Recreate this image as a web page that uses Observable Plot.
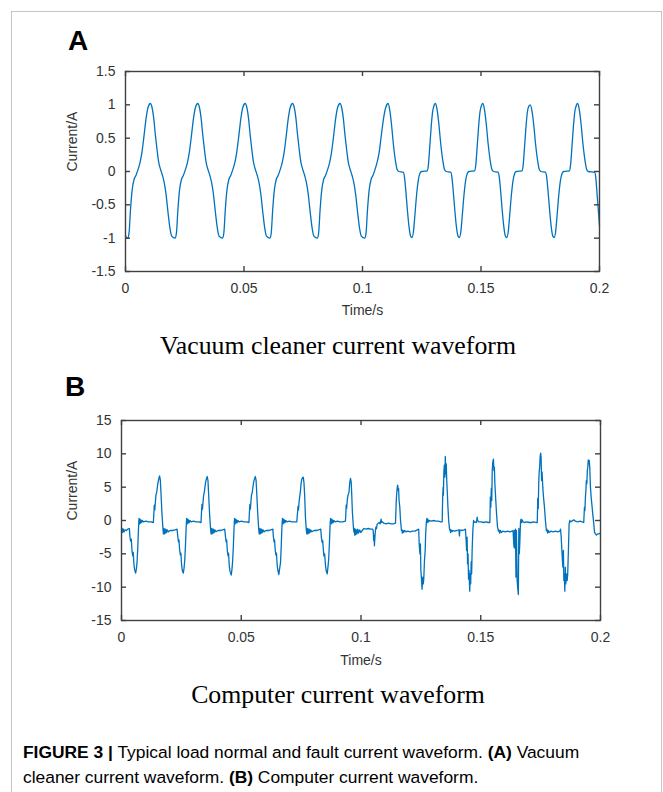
<!DOCTYPE html>
<html>
<head>
<meta charset="utf-8">
<script src="https://cdn.jsdelivr.net/npm/d3@7"></script>
<script src="https://cdn.jsdelivr.net/npm/@observablehq/plot@0.6"></script>
<style>
  html, body { margin: 0; padding: 0; background: #fff; }
  #page { position: relative; width: 663px; height: 792px; overflow: hidden; background: #fff; font-family: "Liberation Sans", Arial, sans-serif; }
  #border { position: absolute; left: 11px; top: 11px; width: 651px; height: 840px; border: 1px solid #c4c4c4; box-sizing: border-box; }
  .letter { position: absolute; font-family: "Liberation Sans", Arial, sans-serif; font-weight: bold; font-size: 28px; line-height: 28px; color: #000; }
  .subtitle { position: absolute; left: 0; width: 676px; text-align: center; font-family: "Liberation Serif", "Times New Roman", serif; font-size: 25.8px; line-height: 26px; color: #000; white-space: nowrap; }
  .chart { position: absolute; left: 0; width: 663px; }
  #caption { position: absolute; left: 23px; top: 740px; font-family: "Liberation Sans", Arial, sans-serif; font-size: 17.4px; line-height: 25px; color: #000; white-space: nowrap; }
</style>
</head>
<body>
<div id="page">
  <div id="border"></div>
  <div class="letter" style="left:68px; top:27px;">A</div>
  <div class="chart" id="chartA" style="top:55px;"></div>
  <div class="subtitle" style="top:333px;">Vacuum cleaner current waveform</div>
  <div class="letter" style="left:65px; top:373px;">B</div>
  <div class="chart" id="chartB" style="top:400px;"></div>
  <div class="subtitle" style="top:682px;">Computer current waveform</div>
  <div id="caption"><b>FIGURE 3 |</b> Typical load normal and fault current waveform. <b>(A)</b> Vacuum<br>cleaner current waveform. <b>(B)</b> Computer current waveform.</div>
</div>
<script>
// ---------- axis ticks ----------
const xTickValues = [0, 0.05, 0.1, 0.15, 0.2];
const xTickLabels = ["0", "0.05", "0.1", "0.15", "0.2"];
const yTickValuesA = [-1.5, -1, -0.5, 0, 0.5, 1, 1.5];
const yTickLabelsA = ["-1.5", "-1", "-0.5", "0", "0.5", "1", "1.5"];
const yTickValuesB = [-15, -10, -5, 0, 5, 10, 15];
const yTickLabelsB = ["-15", "-10", "-5", "0", "5", "10", "15"];

// ---------- (A) vacuum cleaner current: [time in ms, current in A] ----------
const vacuumSamples = [
  [0.0,-0.96],[0.3,-0.99],
  [0.9,-1.00],[1.5,-0.92],[2.1,-0.58],[2.8,-0.28],[3.6,-0.12],[4.4,-0.06],[5.2,0.02],[6.1,0.13],[6.9,0.28],[7.8,0.53],[8.7,0.80],[9.5,0.96],[10.5,1.02],[11.2,0.96],[11.9,0.80],[12.6,0.55],[13.3,0.33],[14.0,0.14],[14.8,0.03],[15.6,-0.06],[16.3,-0.16],[17.1,-0.34],[17.9,-0.60],[18.8,-0.86],[19.5,-0.97],
  [20.9,-1.00],[21.5,-0.92],[22.1,-0.58],[22.8,-0.28],[23.6,-0.12],[24.4,-0.06],[25.2,0.02],[26.1,0.13],[26.9,0.28],[27.8,0.53],[28.7,0.80],[29.5,0.96],[30.5,1.02],[31.2,0.96],[31.9,0.80],[32.6,0.55],[33.3,0.33],[34.0,0.14],[34.8,0.03],[35.6,-0.06],[36.3,-0.16],[37.1,-0.34],[37.9,-0.60],[38.8,-0.86],[39.5,-0.97],
  [40.9,-1.00],[41.5,-0.92],[42.1,-0.58],[42.8,-0.28],[43.6,-0.12],[44.4,-0.06],[45.2,0.02],[46.1,0.13],[46.9,0.28],[47.8,0.53],[48.7,0.80],[49.5,0.96],[50.5,1.02],[51.2,0.96],[51.9,0.80],[52.6,0.55],[53.3,0.33],[54.0,0.14],[54.8,0.03],[55.6,-0.06],[56.3,-0.16],[57.1,-0.34],[57.9,-0.60],[58.8,-0.86],[59.5,-0.97],
  [60.9,-1.00],[61.5,-0.92],[62.1,-0.58],[62.8,-0.28],[63.6,-0.12],[64.4,-0.06],[65.2,0.02],[66.1,0.13],[66.9,0.28],[67.8,0.53],[68.7,0.80],[69.5,0.96],[70.5,1.02],[71.2,0.96],[71.9,0.80],[72.6,0.55],[73.3,0.33],[74.0,0.14],[74.8,0.03],[75.6,-0.06],[76.3,-0.16],[77.1,-0.34],[77.9,-0.60],[78.8,-0.86],[79.5,-0.97],
  [80.9,-1.00],[81.5,-0.92],[82.1,-0.58],[82.8,-0.28],[83.6,-0.12],[84.4,-0.06],[85.2,0.02],[86.1,0.13],[86.9,0.28],[87.8,0.53],[88.7,0.80],[89.5,0.96],[90.5,1.02],[91.2,0.96],[91.9,0.80],[92.6,0.55],[93.3,0.33],[94.0,0.14],[94.8,0.03],[95.6,-0.06],[96.3,-0.16],[97.1,-0.34],[97.9,-0.60],[98.8,-0.86],[99.5,-0.97],
  [100.9,-1.00],[101.5,-0.92],[102.1,-0.58],[102.8,-0.28],[103.6,-0.12],[104.4,-0.06],[105.2,0.02],[106.1,0.13],[107.0,0.28],[107.9,0.53],[108.9,0.80],[109.8,0.96],
  [110.8,1.02],[111.5,0.92],[112.2,0.72],[113.0,0.42],[113.9,0.16],[114.6,0.03],[115.3,0.00],[117.2,-0.01],[117.7,-0.08],[118.3,-0.30],[118.9,-0.56],[119.6,-0.82],[120.3,-0.97],[120.9,-0.99],[121.5,-0.90],[122.1,-0.66],[122.8,-0.36],[123.5,-0.14],[124.2,-0.03],[124.9,0.00],[127.3,0.01],[127.8,0.10],[128.4,0.38],[129.0,0.68],[129.6,0.90],[130.2,0.99],
  [130.8,1.02],[131.5,0.92],[132.2,0.72],[133.0,0.42],[133.9,0.16],[134.6,0.03],[135.3,0.00],[137.2,-0.01],[137.7,-0.08],[138.3,-0.30],[138.9,-0.56],[139.6,-0.82],[140.3,-0.97],[140.9,-0.99],[141.5,-0.90],[142.1,-0.66],[142.8,-0.36],[143.5,-0.14],[144.2,-0.03],[144.9,0.00],[147.3,0.01],[147.8,0.10],[148.4,0.38],[149.0,0.68],[149.6,0.90],[150.2,0.99],
  [150.8,1.02],[151.5,0.92],[152.2,0.72],[153.0,0.42],[153.9,0.16],[154.6,0.03],[155.3,0.00],[157.2,-0.01],[157.7,-0.08],[158.3,-0.30],[158.9,-0.56],[159.6,-0.82],[160.3,-0.97],[160.9,-0.99],[161.5,-0.90],[162.1,-0.66],[162.8,-0.36],[163.5,-0.14],[164.2,-0.03],[164.9,0.00],[167.3,0.01],[167.8,0.10],[168.4,0.38],[169.0,0.68],[169.6,0.90],[170.2,0.98],
  [170.8,1.00],[171.5,0.91],[172.2,0.72],[173.0,0.42],[173.9,0.16],[174.6,0.03],[175.3,0.00],[177.2,-0.01],[177.7,-0.08],[178.3,-0.30],[178.9,-0.56],[179.6,-0.82],[180.3,-0.97],[180.9,-0.99],[181.5,-0.90],[182.1,-0.66],[182.8,-0.36],[183.5,-0.14],[184.2,-0.03],[184.9,0.00],[187.3,0.01],[187.8,0.10],[188.4,0.38],[189.0,0.68],[189.6,0.90],[190.2,0.99],
  [190.8,1.02],[191.5,0.92],[192.2,0.72],[193.0,0.42],[193.9,0.16],[194.6,0.03],[195.3,0.00],[197.9,-0.01],[198.4,-0.08],[199.0,-0.35],[199.6,-0.62],[200.0,-0.82]
];

// ---------- (B) computer current: [time in ms, current in A] ----------
const computerSamples = [
  [0.0,-1.5],[0.3,-1.2],[0.5,-1.8],[0.8,-1.3],[1.1,-1.7],[1.5,-1.4],[2.0,-1.5],[2.6,-1.3],[3.3,-1.2],
  [3.5,-2.4],[3.8,-3.1],[4.1,-2.8],[4.4,-4.6],[4.7,-5.3],[4.9,-4.8],[5.2,-6.6],[5.5,-7.4],[5.9,-7.9],[6.2,-7.3],[6.5,-6.2],[6.8,-4.0],[7.1,-1.2],[7.3,0.3],
  [7.5,-0.5],[7.7,0.2],[7.9,-0.4],[8.1,0.1],[8.4,-0.3],[8.7,0.0],[9.2,-0.2],[10.2,-0.1],[11.2,-0.2],[12.3,-0.2],[13.3,-0.3],
  [13.5,1.0],[13.7,2.3],[13.9,1.6],[14.2,3.0],[14.4,3.9],[14.7,4.2],[15.0,5.1],[15.3,5.8],[15.6,6.3],[15.9,6.7],[16.2,6.1],[16.5,4.0],[16.9,1.0],[17.3,-1.2],[17.5,-2.0],
  [17.7,-1.2],[17.9,-2.0],[18.1,-1.3],[18.3,-1.9],[18.5,-1.3],[18.8,-1.8],[19.1,-1.4],[19.6,-1.7],[20.3,-1.5],[21.3,-1.5],[22.3,-1.4],[23.2,-1.3],
  [23.5,-2.4],[23.8,-3.2],[24.0,-2.9],[24.3,-4.5],[24.6,-5.2],[24.8,-4.9],[25.1,-6.7],[25.4,-7.5],[25.8,-7.9],[26.1,-7.2],[26.4,-6.0],[26.7,-3.8],[27.0,-1.0],[27.2,0.3],
  [27.4,-0.5],[27.6,0.2],[27.8,-0.4],[28.0,0.1],[28.3,-0.3],[28.6,0.0],[29.1,-0.2],[30.1,-0.1],[31.1,-0.2],[32.2,-0.2],[33.2,-0.3],
  [33.4,1.2],[33.6,2.4],[33.8,1.7],[34.1,3.0],[34.3,3.8],[34.6,4.3],[34.9,5.2],[35.2,5.9],[35.5,6.3],[35.8,6.6],[36.1,6.0],[36.4,3.8],[36.8,0.8],[37.2,-1.3],[37.4,-2.0],
  [37.6,-1.2],[37.8,-2.0],[38.0,-1.3],[38.2,-1.9],[38.4,-1.3],[38.7,-1.8],[39.0,-1.4],[39.5,-1.7],[40.2,-1.5],[41.2,-1.5],[42.2,-1.4],[43.1,-1.3],
  [43.4,-2.4],[43.7,-3.2],[43.9,-2.9],[44.2,-4.6],[44.5,-5.3],[44.7,-4.9],[45.0,-6.8],[45.3,-7.6],[45.8,-8.2],[46.1,-7.4],[46.4,-6.1],[46.7,-3.9],[47.0,-1.0],[47.2,0.3],
  [47.4,-0.5],[47.6,0.2],[47.8,-0.4],[48.0,0.1],[48.3,-0.3],[48.6,0.0],[49.1,-0.2],[50.1,-0.1],[51.1,-0.2],[52.2,-0.2],[53.2,-0.3],
  [53.4,1.1],[53.6,2.4],[53.8,1.7],[54.1,3.1],[54.3,3.9],[54.6,4.2],[54.9,5.1],[55.2,5.8],[55.5,6.2],[55.9,6.6],[56.2,6.0],[56.5,3.9],[56.9,0.9],[57.3,-1.3],[57.5,-2.0],
  [57.7,-1.2],[57.9,-2.0],[58.1,-1.3],[58.3,-1.9],[58.5,-1.3],[58.8,-1.8],[59.1,-1.4],[59.6,-1.7],[60.3,-1.5],[61.3,-1.5],[62.3,-1.4],[63.2,-1.3],
  [63.4,-2.4],[63.7,-3.2],[63.9,-2.9],[64.2,-4.5],[64.5,-5.2],[64.7,-4.9],[65.0,-6.7],[65.3,-7.5],[65.7,-8.1],[66.0,-7.3],[66.4,-6.3],[66.7,-3.8],[67.0,-0.8],[67.2,0.3],
  [67.4,-0.5],[67.6,0.2],[67.8,-0.4],[68.0,0.1],[68.3,-0.3],[68.6,0.0],[69.1,-0.2],[70.1,-0.1],[71.1,-0.2],[72.2,-0.2],[73.2,-0.2],
  [73.5,1.2],[73.7,2.1],[73.9,1.6],[74.2,3.0],[74.5,3.8],[74.7,4.4],[75.0,5.6],[75.3,6.2],[75.6,6.4],[75.9,6.5],[76.2,5.6],[76.5,3.6],[76.8,0.5],[77.2,-1.6],[77.4,-2.0],
  [77.6,-1.2],[77.8,-2.0],[78.0,-1.3],[78.2,-1.9],[78.4,-1.3],[78.7,-1.8],[79.0,-1.4],[79.5,-1.7],[80.3,-1.5],[81.3,-1.5],[82.3,-1.4],[83.2,-1.3],
  [83.5,-2.7],[83.8,-3.3],[84.0,-3.0],[84.2,-4.0],[84.5,-5.3],[84.8,-5.0],[85.2,-6.8],[85.5,-7.6],[85.9,-8.0],[86.2,-7.0],[86.5,-5.8],[86.8,-3.5],[87.1,-0.6],[87.3,0.3],
  [87.5,-0.5],[87.7,0.2],[87.9,-0.4],[88.1,0.1],[88.4,-0.3],[88.7,0.0],[89.2,-0.2],[90.2,-0.1],[91.2,-0.2],[92.3,-0.2],[93.5,-0.1],
  [93.7,1.2],[93.8,2.3],[94.0,1.8],[94.3,3.2],[94.6,3.8],[95.0,4.3],[95.3,5.7],[95.6,6.3],[95.9,5.8],[96.1,4.2],[96.4,1.3],[96.8,-0.8],[97.0,-1.7],
  [97.2,-1.2],[97.4,-2.2],[97.6,-1.3],[97.8,-2.1],[98.0,-1.4],[98.3,-2.0],[98.6,-1.3],[99.0,-1.9],[99.4,-1.4],[99.9,-1.8],[100.5,-1.5],[101.2,-1.2],[102.0,-1.3],[103.0,-1.2],[104.0,-1.3],[104.9,-1.3],
  [105.1,-1.5],[105.3,-3.0],[105.5,-2.2],[105.6,-3.8],[105.9,-2.0],[106.2,-1.0],[106.5,-1.2],[106.7,-0.6],[107.2,-0.4],[107.6,-0.3],[108.0,-0.5],[108.4,0.2],[108.6,-0.3],[108.9,-0.2],[109.5,-0.4],[110.5,-0.5],[111.5,-0.4],[112.5,-0.5],[113.5,-0.5],[114.4,-0.4],
  [114.7,2.8],[114.9,4.0],[115.1,4.8],[115.3,5.3],[115.5,4.5],[115.7,4.8],[115.9,3.0],[116.2,2.0],[116.5,0.0],[116.9,-1.5],
  [117.1,-1.4],[117.3,-1.9],[117.5,-1.5],[117.8,-1.8],[118.2,-1.5],[118.8,-1.7],[119.5,-1.6],[120.5,-1.7],[121.5,-1.6],[122.5,-1.6],[123.5,-1.4],[124.1,-1.3],
  [124.3,-3.5],[124.6,-5.0],[124.8,-3.5],[125.0,-7.5],[125.2,-8.5],[125.5,-10.3],[125.8,-8.5],[126.0,-9.5],[126.2,-8.8],[126.5,-6.0],[126.8,-4.5],[127.0,-2.0],[127.3,-0.2],
  [127.5,0.3],[127.7,-0.3],[127.9,0.2],[128.2,-0.2],[128.6,0.0],[129.3,-0.1],[130.3,0.0],[131.3,-0.1],[132.3,-0.1],[133.3,-0.2],[133.9,-0.2],
  [134.1,3.5],[134.3,5.0],[134.4,3.8],[134.6,7.3],[134.8,8.3],[135.0,6.5],[135.2,9.6],[135.4,7.0],[135.6,8.5],[135.8,6.0],[136.0,4.5],[136.3,2.0],[136.6,0.0],[137.0,-1.4],
  [137.2,-1.3],[137.4,-1.8],[137.6,-1.4],[137.9,-1.7],[138.3,-1.5],[139.0,-1.6],[140.0,-1.5],[140.9,-1.4],[141.1,-2.3],[141.3,-1.4],[142.0,-1.5],[143.0,-1.4],[143.6,-1.3],
  [143.9,-3.0],[144.1,-4.5],[144.3,-2.5],[144.5,-6.5],[144.7,-5.0],[144.9,-8.8],[145.1,-7.5],[145.4,-10.6],[145.6,-8.0],[145.8,-9.5],[146.0,-6.2],[146.2,-8.0],[146.4,-4.5],[146.7,-1.5],[147.0,0.0],
  [147.2,-0.3],[147.6,-0.2],[148.2,-0.3],[148.5,0.5],[148.7,0.0],[149.2,-0.2],[150.2,-0.2],[151.2,-0.3],[152.2,-0.2],[153.2,-0.3],[153.8,-0.3],
  [154.0,3.5],[154.2,2.0],[154.4,4.8],[154.6,3.0],[154.8,7.5],[155.0,8.7],[155.3,9.2],[155.5,7.5],[155.7,8.0],[155.9,5.5],[156.2,3.5],[156.6,1.0],[157.0,-1.0],[157.4,-1.6],
  [157.6,-1.4],[157.9,-1.9],[158.2,-1.5],[158.6,-1.8],[159.2,-1.6],[160.2,-1.7],[161.2,-1.6],[162.2,-1.7],[163.0,-1.6],[163.5,-1.5],
  [163.7,-3.0],[163.9,-4.0],[164.1,-1.5],[164.3,-4.2],[164.5,-1.3],[164.7,-8.5],[164.9,-1.5],[165.2,-9.0],[165.5,-10.4],[165.7,-11.1],[165.9,-1.2],[166.1,-5.0],[166.3,-3.5],[166.6,-0.2],
  [166.8,0.2],[167.0,-0.3],[167.3,0.1],[167.6,-0.2],[168.2,-0.3],[169.2,-0.2],[170.2,-0.3],[171.2,-0.3],[172.2,-0.2],[173.0,-0.3],[173.6,-0.3],
  [173.8,3.3],[174.0,1.8],[174.2,5.5],[174.4,7.3],[174.6,8.0],[174.8,9.6],[175.0,10.1],[175.2,9.5],[175.4,6.0],[175.6,7.3],[175.9,5.0],[176.2,3.5],[176.6,2.0],[177.0,0.0],[177.4,-1.5],
  [177.6,-1.3],[177.9,-1.9],[178.2,-1.5],[178.6,-1.8],[179.2,-1.6],[180.2,-1.7],[181.2,-1.6],[182.2,-1.7],[183.0,-1.6],[183.3,-1.3],
  [183.6,-2.5],[183.8,-4.0],[184.1,-6.0],[184.3,-7.0],[184.5,-4.5],[184.7,-9.0],[184.9,-8.0],[185.1,-10.6],[185.3,-7.0],[185.5,-9.5],[185.8,-8.0],[186.1,-9.0],[186.3,-8.0],[186.6,-4.5],[186.9,-0.5],[187.2,0.0],
  [187.5,-0.2],[188.0,-0.1],[188.9,0.1],[189.5,-0.1],[190.5,-0.2],[191.5,-0.1],[192.3,-0.2],[193.0,-0.3],
  [193.3,2.0],[193.5,1.5],[193.7,3.5],[193.9,4.5],[194.1,6.0],[194.3,5.5],[194.5,7.5],[194.7,8.0],[194.9,9.1],[195.1,8.5],[195.3,9.0],[195.5,8.0],[195.8,5.0],[196.1,3.5],[196.5,2.0],[196.9,0.5],[197.2,-0.5],[197.5,-1.75],
  [197.9,-2.0],[198.3,-2.2],[198.8,-2.0],[199.3,-2.0],[200.0,-1.9]
];

const FRAME = "#404040";
const TEXT = "#333333";

function panel(samples, o) {
  const rows = samples.map(([ms, amps]) => ({t: ms / 1000, i: amps}));
  const plotW = 663 - o.marginLeft - o.marginRight;
  const plotH = o.height - o.marginTop - o.marginBottom;
  const tickLen = 5;
  return Plot.plot({
    width: 663,
    height: o.height,
    marginLeft: o.marginLeft,
    marginRight: o.marginRight,
    marginTop: o.marginTop,
    marginBottom: o.marginBottom,
    style: {fontFamily: '"Liberation Sans", Arial, sans-serif', fontSize: "14px", color: TEXT, background: "transparent", overflow: "visible"},
    x: {domain: [0, 0.2]},
    y: {domain: o.yDomain},
    marks: [
      Plot.line(rows, {x: "t", y: "i", stroke: "#0072BD", strokeWidth: o.strokeWidth, curve: o.curve}),
      Plot.frame({stroke: FRAME, strokeWidth: 1.4}),
      Plot.tickX(xTickValues, {x: d => d, insetTop: plotH - tickLen, stroke: FRAME, strokeWidth: 1.4}),
      Plot.tickX(xTickValues, {x: d => d, insetBottom: plotH - tickLen, stroke: FRAME, strokeWidth: 1.4}),
      Plot.tickY(o.yTicks, {y: d => d, insetRight: plotW - tickLen, stroke: FRAME, strokeWidth: 1.4}),
      Plot.tickY(o.yTicks, {y: d => d, insetLeft: plotW - tickLen, stroke: FRAME, strokeWidth: 1.4}),
      Plot.axisX(xTickValues, {tickSize: 0, tickPadding: o.xPad, tickFormat: d => xTickLabels[xTickValues.indexOf(d)], label: null, fill: TEXT}),
      Plot.axisY(o.yTicks, {tickSize: 0, tickPadding: o.yPad, tickFormat: d => o.yLabels[o.yTicks.indexOf(d)], label: null, fill: TEXT}),
      Plot.text(["Time/s"], {text: d => d, frameAnchor: "bottom", dy: o.xTitleDy, fontSize: 14, fill: TEXT}),
      Plot.text(["Current/A"], {text: d => d, frameAnchor: "left", rotate: -90, dx: o.yTitleDx, fontSize: 14, fill: TEXT})
    ]
  });
}

document.getElementById("chartA").append(panel(vacuumSamples, {
  height: 275, marginTop: 16, marginBottom: 59, marginLeft: 125, marginRight: 64,
  yDomain: [-1.5, 1.5], yTicks: yTickValuesA, yLabels: yTickLabelsA,
  strokeWidth: 1.3, curve: "monotone-x", xPad: 12, yPad: 10, xTitleDy: 43, yTitleDx: -53
}));

document.getElementById("chartB").append(panel(computerSamples, {
  height: 280, marginTop: 20, marginBottom: 60, marginLeft: 121, marginRight: 63,
  yDomain: [-15, 15], yTicks: yTickValuesB, yLabels: yTickLabelsB,
  strokeWidth: 1.3, curve: "linear", xPad: 12, yPad: 10, xTitleDy: 44, yTitleDx: -49
}));
</script>
</body>
</html>
